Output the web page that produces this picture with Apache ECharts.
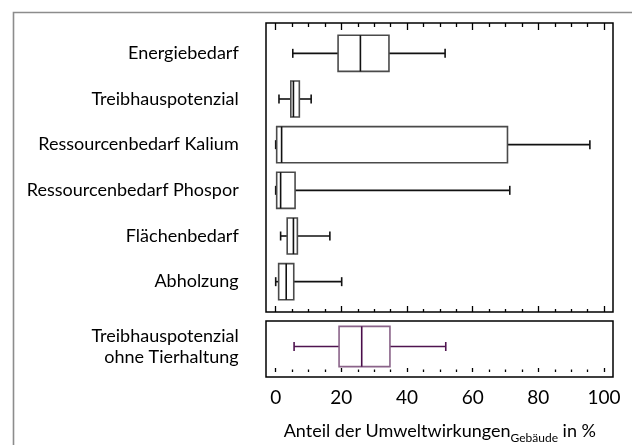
<!DOCTYPE html>
<html>
<head>
<meta charset="utf-8">
<script src="https://cdn.jsdelivr.net/npm/echarts@6/dist/echarts.min.js"></script>
<style>
html,body{margin:0;padding:0;background:#fff;}
#chart{width:632px;height:445px;}
</style>
</head>
<body>
<div id="chart"></div>
<script>
// ---- data ----
const categories = ['Energiebedarf','Treibhauspotenzial','Ressourcenbedarf Kalium','Ressourcenbedarf Phospor','Flächenbedarf','Abholzung'];
// [min, Q1, median, Q3, max]
const energie   = [5.2, 19.0, 25.8, 34.5, 51.6];
const treibhaus = [1.0, 4.6, 5.4, 7.2, 10.8];
const kalium    = [0.0, 0.3, 1.8, 70.6, 95.7];
const phospor   = [0.0, 0.3, 1.5, 5.9, 71.3];
const flaeche   = [1.5, 3.5, 5.4, 6.6, 16.5];
const abholzung = [0.0, 0.9, 3.2, 5.5, 20.1];
const bottomCategories = ['Treibhauspotenzial\nohne Tierhaltung'];
const ohneTier  = [5.6, 19.3, 26.2, 34.8, 51.8];
const tickLabels = [0, 20, 40, 60, 80, 100];

const topData = [energie, treibhaus, kalium, phospor, flaeche, abholzung].map((v, i) => [i].concat(v));
const bottomData = [[0].concat(ohneTier)];

const FONT = 'Lato';

function makeRender(boxColor, lineColor, medColor) {
  return function (params, api) {
    const c = api.value(0);
    const pMin = api.coord([api.value(1), c]);
    const pQ1 = api.coord([api.value(2), c]);
    const pMed = api.coord([api.value(3), c]);
    const pQ3 = api.coord([api.value(4), c]);
    const pMax = api.coord([api.value(5), c]);
    const band = api.size([0, 1])[1];
    const h = band * 0.79;
    const y = pQ1[1];
    const cap = 4.5;
    const lw = 1.6;
    return {
      type: 'group',
      children: [
        {type: 'line', shape: {x1: pMin[0], y1: y, x2: pQ1[0], y2: y}, style: {stroke: lineColor, lineWidth: lw}},
        {type: 'line', shape: {x1: pQ3[0], y1: y, x2: pMax[0], y2: y}, style: {stroke: lineColor, lineWidth: lw}},
        {type: 'line', shape: {x1: pMin[0], y1: y - cap, x2: pMin[0], y2: y + cap}, style: {stroke: lineColor, lineWidth: lw}},
        {type: 'line', shape: {x1: pMax[0], y1: y - cap, x2: pMax[0], y2: y + cap}, style: {stroke: lineColor, lineWidth: lw}},
        {type: 'rect', shape: {x: pQ1[0], y: y - h / 2, width: pQ3[0] - pQ1[0], height: h}, style: {fill: '#fff', stroke: boxColor, lineWidth: lw}},
        {type: 'line', shape: {x1: pMed[0], y1: y - h / 2, x2: pMed[0], y2: y + h / 2}, style: {stroke: medColor, lineWidth: lw}}
      ]
    };
  };
}

const hiddenX = (g) => ({gridIndex: g, type: 'value', show: false, min: 0, max: 1});
const hiddenY = (g) => ({gridIndex: g, type: 'value', show: false, min: 0, max: 1});

const tickAxis = (g, pos, offset, major, minor, labels) => ({
  gridIndex: g, type: 'value', position: pos, offset: offset,
  min: 0, max: 100, interval: 20,
  axisLine: {show: false},
  axisTick: {show: true, inside: true, length: major, lineStyle: {color: '#000', width: 1.3}},
  minorTick: {show: true, splitNumber: 4, length: minor, lineStyle: {color: '#000', width: 1.3}},
  splitLine: {show: false},
  axisLabel: labels ? {show: true, color: '#000', fontFamily: FONT, fontSize: 19, margin: 16} : {show: false}
});

const chart = echarts.init(document.getElementById('chart'), null, {renderer: 'canvas'});
chart.setOption({
  animation: false,
  backgroundColor: '#fff',
  graphic: [{
    type: 'rect', left: 11, top: 10, shape: {x: 0, y: 0, width: 620, height: 450},
    style: {fill: 'none', stroke: '#8c8c8c', lineWidth: 1.6}, silent: true, z: 0
  }],
  grid: [
    {left: 266, top: 23, width: 347, height: 289, show: true, borderColor: '#000', borderWidth: 1.5, backgroundColor: 'transparent'},
    {left: 275.7, top: 30.5, width: 328.3, height: 274},
    {left: 266, top: 321, width: 347, height: 56, show: true, borderColor: '#000', borderWidth: 1.5, backgroundColor: 'transparent'},
    {left: 275.7, top: 321, width: 328.3, height: 56}
  ],
  xAxis: [
    hiddenX(0),
    tickAxis(1, 'top', 7.5, 7, 4, false),
    tickAxis(1, 'bottom', 7.5, 6, 3, false),
    hiddenX(2),
    Object.assign(tickAxis(3, 'bottom', 0, 4, 2.5, true), {
      name: '{a|Anteil der Umweltwirkungen}{s|Gebäude}{a| in %}',
      nameLocation: 'middle', nameGap: 46,
      nameTextStyle: {
        rich: {
          a: {fontFamily: FONT, fontSize: 18, color: '#000', verticalAlign: 'bottom', lineHeight: 22},
          s: {fontFamily: FONT, fontSize: 12, color: '#000', verticalAlign: 'bottom', lineHeight: 22, padding: [0, 0, -4, 0]}
        }
      }
    })
  ],
  yAxis: [
    hiddenY(0),
    {
      gridIndex: 1, type: 'category', data: categories, inverse: true,
      axisLine: {show: false}, axisTick: {show: false}, splitLine: {show: false},
      axisLabel: {color: '#000', fontFamily: FONT, fontSize: 18, margin: 37}
    },
    hiddenY(2),
    {
      gridIndex: 3, type: 'category', data: bottomCategories,
      axisLine: {show: false}, axisTick: {show: false}, splitLine: {show: false},
      axisLabel: {color: '#000', fontFamily: FONT, fontSize: 18, margin: 37, lineHeight: 21}
    }
  ],
  series: [
    {
      type: 'custom', xAxisIndex: 1, yAxisIndex: 1,
      renderItem: makeRender('#4a4a4a', '#111', '#111'),
      encode: {x: [1, 2, 3, 4, 5], y: 0},
      data: topData, z: 5
    },
    {
      type: 'custom', xAxisIndex: 4, yAxisIndex: 3,
      renderItem: makeRender('#8a6389', '#4f1450', '#4a0d4a'),
      encode: {x: [1, 2, 3, 4, 5], y: 0},
      data: bottomData, z: 5
    }
  ]
});
</script>
</body>
</html>
